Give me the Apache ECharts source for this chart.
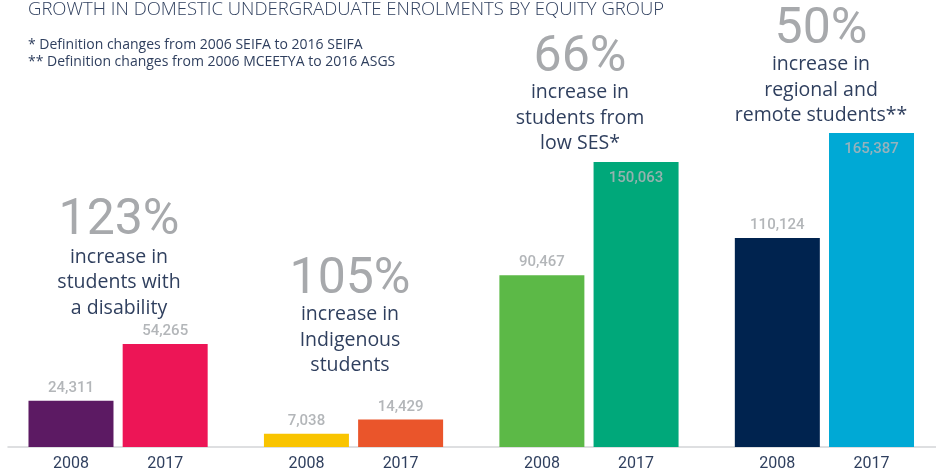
<!DOCTYPE html>
<html>
<head>
<meta charset="utf-8">
<script src="https://cdn.jsdelivr.net/npm/echarts@6/dist/echarts.min.js"></script>
<style>
  html, body { margin: 0; padding: 0; background: #ffffff; }
  #chart { width: 936px; height: 472px; }
</style>
</head>
<body>
<div id="chart"></div>
<script>
// ---- data ----
const groups = ['students with a disability', 'Indigenous students', 'students from low SES*', 'regional and remote students**'];
const years = ['2008', '2017'];
const values2008 = [24311, 7038, 90467, 110124];
const values2017 = [54265, 14429, 150063, 165387];
const increaseLabels = ['123%', '105%', '66%', '50%'];
const captions = [
  'increase in\nstudents with\na disability',
  'increase in\nIndigenous\nstudents',
  'increase in\nstudents from\nlow SES*',
  'increase in\nregional and\nremote students**'
];
const titleText = 'GROWTH IN DOMESTIC UNDERGRADUATE ENROLMENTS BY EQUITY GROUP';
const footnotes = [
  '* Definition changes from 2006 SEIFA to 2016 SEIFA',
  '** Definition changes from 2006 MCEETYA to 2016 ASGS'
];

// ---- styles ----
const colors2008 = ['#5c1a63', '#f9c400', '#5cb947', '#00234f'];
const colors2017 = ['#ed1556', '#ea552b', '#00a87a', '#00a9d5'];
const NAVY = '#2f3f5e';
const GREY = '#b3b6b9';
const FONT = 'Roboto, "Noto Sans", sans-serif';
const TFONT = '"Open Sans", Roboto, sans-serif';

// Build slot layout: each group = [gap, 2008, gap, 2017, gap]
const slotCats = [];
const slotData = [];
groups.forEach((g, i) => {
  const pair = [values2008[i], values2017[i]];
  const cols = [colors2008[i], colors2017[i]];
  slotCats.push(''); slotData.push('-');
  for (let k = 0; k < 2; k++) {
    slotCats.push(years[k]);
    const inside = pair[k] > 140000;
    slotData.push({
      value: pair[k],
      itemStyle: { color: cols[k] },
      label: inside ? {
        position: 'insideTop', distance: 9, color: 'rgba(175,180,185,0.85)'
      } : { position: 'top', distance: 5, color: GREY }
    });
    if (k === 0) { slotCats.push(''); slotData.push('-'); }
  }
  slotCats.push(''); slotData.push('-');
});

const annX = [119, 350, 580, 821];
const pctY = [221, 280, 58, 30];
const capY = [282.5, 340, 118, 90];

const graphics = [
  { type: 'text', left: 28, top: 0, style: { text: titleText, fill: NAVY, font: '300 18.5px ' + TFONT } },
  { type: 'text', left: 28, top: 38, style: { text: footnotes[0], fill: NAVY, font: '14px ' + TFONT } },
  { type: 'text', left: 28, top: 55, style: { text: footnotes[1], fill: NAVY, font: '14px ' + TFONT } }
];
groups.forEach((g, i) => {
  graphics.push({ type: 'text', x: annX[i], y: pctY[i], style: {
    text: increaseLabels[i], fill: '#a7a9ac', font: '400 50px ' + FONT,
    align: 'center', verticalAlign: 'middle' } });
  graphics.push({ type: 'text', x: annX[i], y: capY[i], style: {
    text: captions[i], fill: NAVY, font: '19.5px ' + TFONT, lineHeight: 25.5,
    align: 'center', verticalAlign: 'middle' } });
});

const chart = echarts.init(document.getElementById('chart'), null, { renderer: 'canvas' });
chart.setOption({
  animation: false,
  backgroundColor: '#ffffff',
  grid: [
    { left: 23.9, width: 894.7, top: 0, bottom: 25, containLabel: false },
    { left: 8, right: 0, top: 0, bottom: 25, containLabel: false }
  ],
  xAxis: [{
    type: 'category',
    gridIndex: 0,
    data: slotCats,
    boundaryGap: false,
    axisTick: { show: false },
    axisLine: { show: false },
    axisLabel: { interval: 0, color: NAVY, fontSize: 16, fontFamily: FONT, margin: 9 }
  }, {
    type: 'value',
    gridIndex: 1,
    min: 0, max: 1,
    axisTick: { show: false },
    axisLabel: { show: false },
    splitLine: { show: false },
    axisLine: { show: true, lineStyle: { color: '#d3d5d7', width: 1.5 } }
  }],
  yAxis: [
    { type: 'value', gridIndex: 0, min: 0, max: 235400, show: false, splitLine: { show: false } },
    { type: 'value', gridIndex: 1, min: 0, max: 1, show: false, splitLine: { show: false } }
  ],
  series: [{
    type: 'bar',
    xAxisIndex: 0, yAxisIndex: 0,
    data: slotData,
    barWidth: 85,
    z: 3,
    label: { show: true, fontSize: 15, fontFamily: FONT, fontWeight: 500,
      formatter: p => p.value.toLocaleString('en-US') }
  }],
  graphic: graphics
});
</script>
</body>
</html>
